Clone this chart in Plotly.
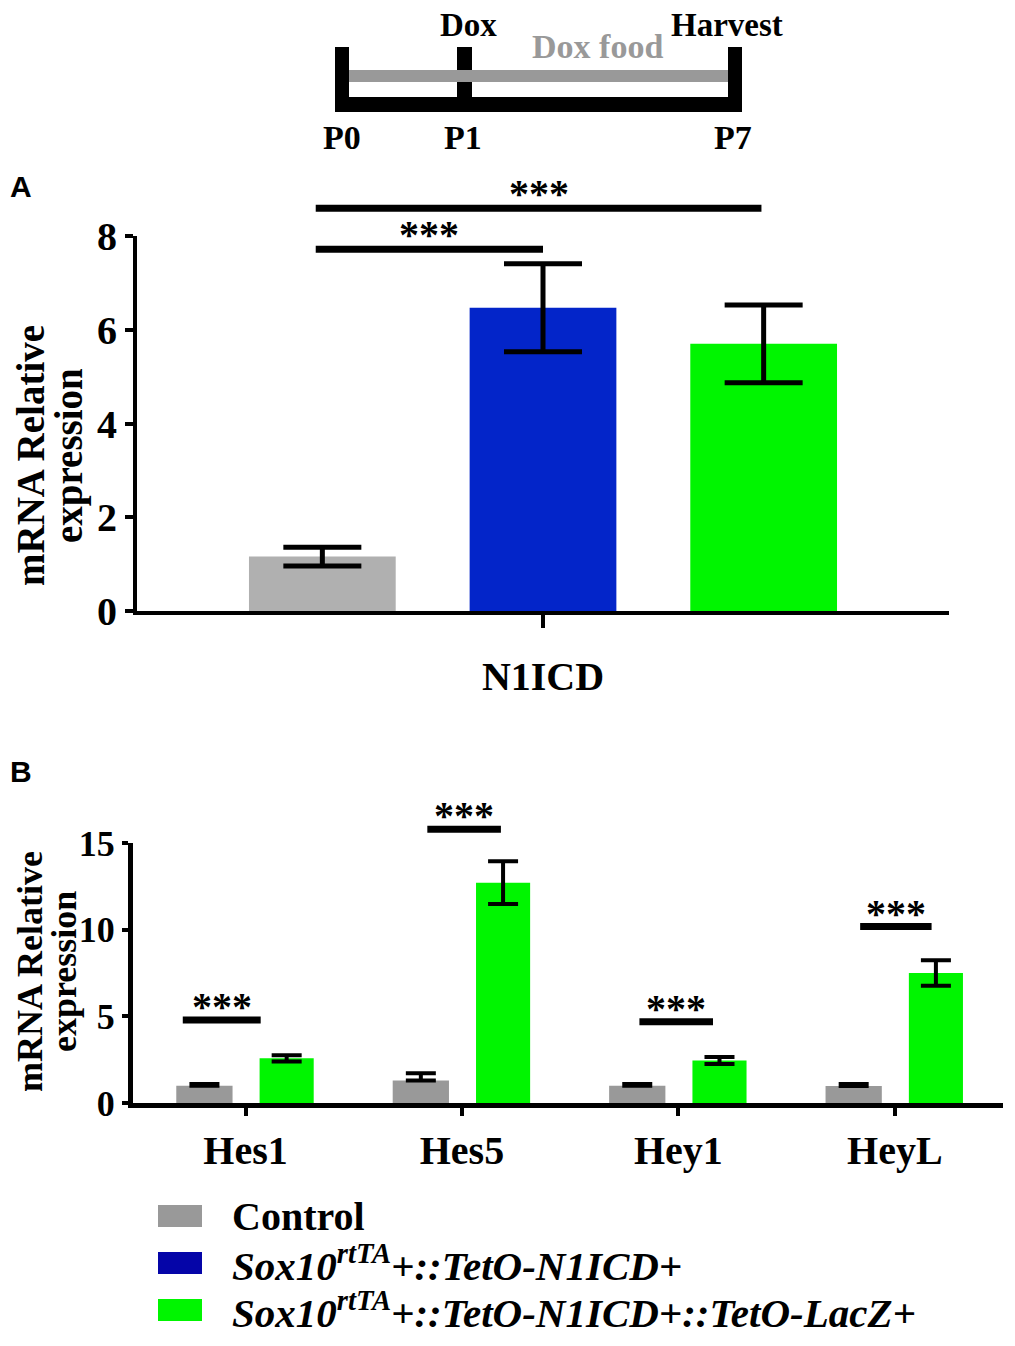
import plotly.graph_objects as go

# Data
groups = ["Control", "Sox10rtTA+::TetO-N1ICD+", "Sox10rtTA+::TetO-N1ICD+::TetO-LacZ+"]
legend_labels = [
    "<b>Control</b>",
    "<b><i>Sox10<sup>rtTA</sup>+::TetO-N1ICD+</i></b>",
    "<b><i>Sox10<sup>rtTA</sup>+::TetO-N1ICD+::TetO-LacZ+</i></b>",
]
n1icd_mean = [1.16, 6.47, 5.70]
n1icd_err = [0.20, 0.94, 0.83]

genes = ["Hes1", "Hes5", "Hey1", "HeyL"]
control_mean = [1.00, 1.30, 1.00, 0.98]
control_err = [0.10, 0.42, 0.10, 0.12]
lacz_mean = [2.58, 12.71, 2.45, 7.50]
lacz_err = [0.18, 1.23, 0.20, 0.74]

# significance brackets: (x start, x end, y level)
sig_a = [(-0.03, 1.0, 7.72), (-0.03, 1.99, 8.59)]
sig_b = [(-0.29, 0.07, 4.79), (0.84, 1.18, 15.8), (1.82, 2.16, 4.69), (2.84, 3.17, 10.18)]

# timeline labels
timeline_days = ["P0", "P1", "P7"]

# page pixels -> paper coords (page body has an 8px margin)
OFF = 8
W, H = 1015 - 2 * OFF, 1346 - 2 * OFF


def px(x):
    return (x - OFF) / W


def py(y):
    return 1 - (y - OFF) / H


SERIF = "Liberation Serif"
SANS = "Liberation Sans"
bar_colors_a = ["#B0B0B0", "#0325C9", "#00F500"]
legend_colors = ["#999999", "#0505A8", "#00F500"]
gray_b = "#999999"
green_b = "#00F500"

fig = go.Figure()

# Panel A
fig.add_trace(
    go.Bar(
        x=list(range(len(groups))),
        y=n1icd_mean,
        width=0.665,
        marker=dict(color=bar_colors_a, line=dict(width=0)),
        error_y=dict(type="data", array=n1icd_err, color="black", thickness=5, width=39),
        xaxis="x",
        yaxis="y",
        showlegend=False,
    )
)

# Panel B
fig.add_trace(
    go.Bar(
        x=genes,
        y=control_mean,
        width=0.26,
        offset=-0.32,
        marker=dict(color=gray_b, line=dict(width=0)),
        error_y=dict(type="data", array=control_err, arrayminus=[0] * len(genes),
                     color="black", thickness=4, width=15),
        xaxis="x2",
        yaxis="y2",
        showlegend=False,
    )
)
fig.add_trace(
    go.Bar(
        x=genes,
        y=lacz_mean,
        width=0.25,
        offset=0.065,
        marker=dict(color=green_b, line=dict(width=0)),
        error_y=dict(type="data", array=lacz_err, color="black", thickness=4, width=15),
        xaxis="x2",
        yaxis="y2",
        showlegend=False,
    )
)

shapes = []
annotations = []

ymax_a, ymax_b = 8, 15
for x0, x1, yv in sig_a:
    shapes.append(dict(type="line", xref="x", yref="y domain", x0=x0, x1=x1,
                       y0=yv / ymax_a, y1=yv / ymax_a, line=dict(color="black", width=7)))
    annotations.append(dict(xref="x", yref="y domain", x=(x0 + x1) / 2, y=yv / ymax_a,
                            text="<b>***</b>", showarrow=False, yanchor="bottom", yshift=-10,
                            font=dict(family=SERIF, size=40, color="black")))
for x0, x1, yv in sig_b:
    shapes.append(dict(type="line", xref="x2", yref="y2 domain", x0=x0, x1=x1,
                       y0=yv / ymax_b, y1=yv / ymax_b, line=dict(color="black", width=7)))
    annotations.append(dict(xref="x2", yref="y2 domain", x=(x0 + x1) / 2, y=yv / ymax_b,
                            text="<b>***</b>", showarrow=False, yanchor="bottom", yshift=-11,
                            font=dict(family=SERIF, size=40, color="black")))

# Timeline sketch
black_blocks = [(335, 349, 47, 112), (335, 742, 97, 112), (728, 742, 47, 112), (457, 472, 47, 97)]
for x0, x1, y0, y1 in black_blocks:
    shapes.append(dict(type="rect", xref="paper", yref="paper", x0=px(x0), x1=px(x1),
                       y0=py(y1), y1=py(y0), fillcolor="black", line=dict(width=0)))
shapes.append(dict(type="rect", xref="paper", yref="paper", x0=px(349), x1=px(728),
                   y0=py(82), y1=py(70), fillcolor="#999999", line=dict(width=0)))

# top labels hang from the top edge so they stay fully inside the figure
for t, x in [("Dox", 468), ("Harvest", 727)]:
    annotations.append(dict(xref="paper", yref="paper", x=px(x), y=1, text="<b>%s</b>" % t,
                            showarrow=False, xanchor="center", yanchor="top", yshift=3,
                            font=dict(family=SERIF, size=33, color="black")))
tl_text = [("Dox food", 597, 47, "#999999")]
for label, (x, y) in zip(timeline_days, [(342, 137), (463, 137), (733, 137)]):
    tl_text.append((label, x, y, "black"))
for t, x, y, c in tl_text:
    annotations.append(dict(xref="paper", yref="paper", x=px(x), y=py(y), text="<b>%s</b>" % t,
                            showarrow=False, xanchor="center", yanchor="middle",
                            font=dict(family=SERIF, size=34, color=c)))

# panel letters
for t, y in [("A", 186), ("B", 772)]:
    annotations.append(dict(xref="paper", yref="paper", x=0, y=py(y), text="<b>%s</b>" % t,
                            showarrow=False, xanchor="left", yanchor="middle",
                            font=dict(family=SANS, size=30, color="black")))

# y titles, one annotation per line
for (x1c, x2c), yc, fs in [((31, 69), 456, 39), ((30, 64), 972, 36)]:
    for t, xc in [("mRNA Relative", x1c), ("expression", x2c)]:
        annotations.append(dict(xref="paper", yref="paper", x=px(xc), y=py(yc),
                                text="<b>%s</b>" % t, textangle=-90,
                                showarrow=False, xanchor="center", yanchor="middle",
                                font=dict(family=SERIF, size=fs, color="black")))

# legend
for i, (label, col) in enumerate(zip(legend_labels, legend_colors)):
    yc = 1216 + 47 * i
    shapes.append(dict(type="rect", xref="paper", yref="paper", x0=px(158), x1=px(202),
                       y0=py(yc + 11), y1=py(yc - 11), fillcolor=col, line=dict(width=0)))
    annotations.append(dict(xref="paper", yref="paper", x=px(230), y=py(yc), text=label,
                            showarrow=False, xanchor="left", yanchor="middle",
                            font=dict(family=SERIF, size=41 if i else 40, color="black")))

axis_common = dict(showgrid=False, zeroline=False, showline=True, linecolor="black",
                   ticks="outside", tickcolor="black", automargin=False)

fig.update_layout(
    width=W,
    height=H,
    margin=dict(l=0, r=0, t=0, b=0, autoexpand=False),
    paper_bgcolor="white",
    plot_bgcolor="white",
    barmode="overlay",
    shapes=shapes,
    annotations=annotations,
    xaxis=dict(domain=[px(137), px(949)], range=[-0.84, 2.84], anchor="y",
               tickvals=[1], ticktext=["N1ICD"], linewidth=4, tickwidth=4, ticklen=13,
               ticklabelstandoff=14,
               tickfont=dict(family=SERIF, size=40, color="black", weight="bold"), **axis_common),
    yaxis=dict(domain=[py(611), py(236)], range=[0, ymax_a], anchor="x",
               tickvals=[0, 2, 4, 6, 8], linewidth=4, tickwidth=4, ticklen=8,
               tickfont=dict(family=SERIF, size=40, color="black", weight="bold"), **axis_common),
    xaxis2=dict(domain=[px(133), px(1003)], range=[-0.52, 3.5], anchor="y2", type="category",
                linewidth=5, tickwidth=4, ticklen=8,
                tickfont=dict(family=SERIF, size=40, color="black", weight="bold"), **axis_common),
    yaxis2=dict(domain=[py(1103), py(843)], range=[0, ymax_b], anchor="x2",
                tickvals=[0, 5, 10, 15], linewidth=5, tickwidth=4, ticklen=6,
                tickfont=dict(family=SERIF, size=36, color="black", weight="bold"), **axis_common),
)

fig.write_html("out.html")
